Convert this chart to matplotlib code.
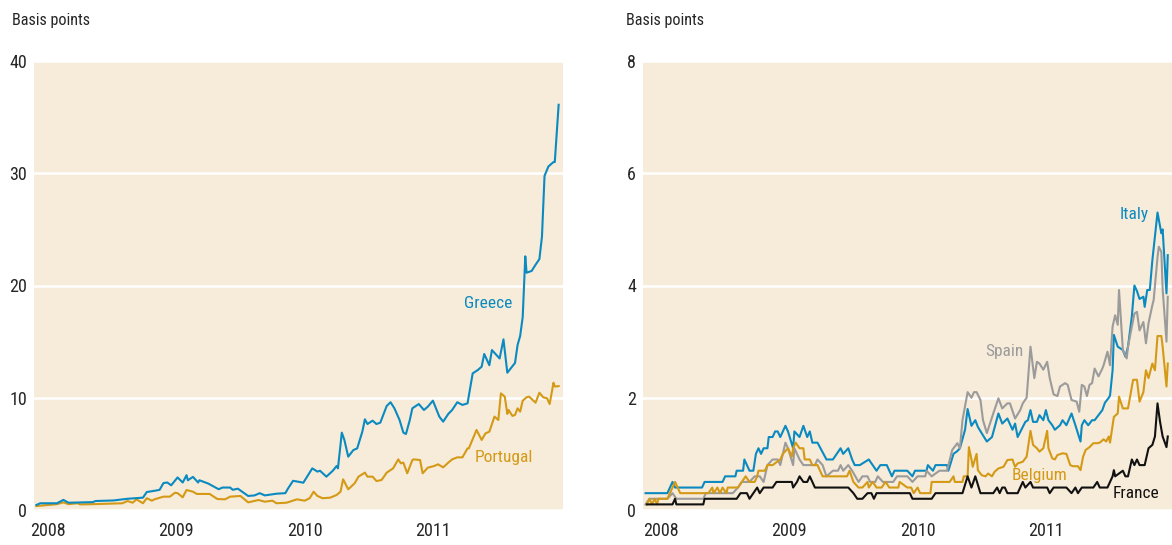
import matplotlib
matplotlib.use("Agg")
import matplotlib.pyplot as plt
from matplotlib import font_manager
from matplotlib.font_manager import FontProperties

# ---------------- data (decimal years, basis points) ----------------
greece_x = [2007.91, 2007.94, 2008.07, 2008.12, 2008.16, 2008.35, 2008.37, 2008.51, 2008.62, 2008.68,
            2008.74, 2008.77, 2008.85, 2008.87, 2008.90, 2008.93, 2008.96, 2009.01, 2009.05, 2009.08,
            2009.09, 2009.13, 2009.17, 2009.18, 2009.25, 2009.33, 2009.36, 2009.42, 2009.44, 2009.48,
            2009.56, 2009.61, 2009.65, 2009.69, 2009.78, 2009.85, 2009.87, 2009.91, 2009.96, 2009.99,
            2010.06, 2010.10, 2010.12, 2010.17, 2010.22, 2010.25, 2010.26, 2010.29, 2010.31, 2010.34,
            2010.38, 2010.41, 2010.45, 2010.47, 2010.49, 2010.53, 2010.56, 2010.59, 2010.64, 2010.67,
            2010.70, 2010.74, 2010.77, 2010.79, 2010.82, 2010.84, 2010.89, 2010.93, 2010.96, 2011.00,
            2011.05, 2011.08, 2011.12, 2011.15, 2011.19, 2011.23, 2011.27, 2011.31, 2011.35, 2011.38,
            2011.40, 2011.44, 2011.46, 2011.52, 2011.55, 2011.58, 2011.64, 2011.66, 2011.68, 2011.70,
            2011.72, 2011.73, 2011.77, 2011.80, 2011.83, 2011.85, 2011.87, 2011.90, 2011.94, 2011.95,
            2011.98]
greece_y = [0.45, 0.6, 0.6, 0.9, 0.65, 0.7, 0.8, 0.85, 1.0, 1.05,
            1.1, 1.6, 1.75, 1.8, 2.4, 2.45, 2.2, 2.9, 2.45, 3.1,
            2.65, 2.95, 2.45, 2.65, 2.35, 1.85, 2.0, 2.0, 1.8, 1.9,
            1.25, 1.3, 1.5, 1.3, 1.45, 1.5, 1.9, 2.6, 2.5, 2.43,
            3.71, 3.42, 3.5, 2.97, 3.5, 3.92, 3.71, 6.89, 6.24, 4.75,
            5.34, 5.49, 6.98, 8.08, 7.66, 7.96, 7.66, 7.78, 9.27, 9.6,
            9.06, 8.02, 6.89, 6.77, 8.02, 9.06, 9.44, 8.91, 9.2, 9.74,
            8.32, 7.87, 8.56, 8.91, 9.6, 9.36, 9.5, 12.17, 12.47, 12.77,
            13.9, 12.9, 14.25, 13.5, 15.2, 12.23, 13.1, 14.7, 15.5, 17.2,
            22.6, 21.14, 21.3, 21.85, 22.35, 24.35, 29.76, 30.6, 31.0, 31.0,
            36.1]

portugal_x = [2007.91, 2008.07, 2008.12, 2008.16, 2008.23, 2008.25, 2008.35, 2008.58, 2008.62, 2008.66,
              2008.69, 2008.74, 2008.77, 2008.81, 2008.83, 2008.90, 2008.95, 2008.99, 2009.01, 2009.05,
              2009.08, 2009.13, 2009.16, 2009.26, 2009.32, 2009.38, 2009.42, 2009.50, 2009.56, 2009.64,
              2009.69, 2009.75, 2009.78, 2009.86, 2009.94, 2010.00, 2010.04, 2010.07, 2010.10, 2010.14,
              2010.20, 2010.25, 2010.28, 2010.30, 2010.31, 2010.34, 2010.39, 2010.42, 2010.47, 2010.49,
              2010.53, 2010.56, 2010.60, 2010.64, 2010.69, 2010.73, 2010.75, 2010.77, 2010.80, 2010.84,
              2010.85, 2010.90, 2010.92, 2010.96, 2011.01, 2011.04, 2011.08, 2011.12, 2011.15, 2011.19,
              2011.23, 2011.27, 2011.28, 2011.34, 2011.38, 2011.41, 2011.44, 2011.48, 2011.51, 2011.53,
              2011.56, 2011.58, 2011.59, 2011.62, 2011.64, 2011.66, 2011.68, 2011.70, 2011.73, 2011.75,
              2011.80, 2011.83, 2011.86, 2011.89, 2011.91, 2011.94, 2011.95, 2011.98]
portugal_y = [0.35, 0.52, 0.68, 0.52, 0.6, 0.5, 0.52, 0.6, 0.8, 0.65,
              0.95, 0.6, 1.05, 0.83, 0.95, 1.19, 1.19, 1.54, 1.5, 1.13,
              1.78, 1.63, 1.43, 1.43, 0.98, 0.95, 1.19, 1.25, 0.68, 0.89,
              0.74, 0.83, 0.6, 0.65, 0.95, 0.83, 1.05, 1.63, 1.25, 1.05,
              1.1, 1.34, 1.63, 2.73, 2.52, 1.84, 2.38, 2.97, 3.33, 2.97,
              2.97, 2.58, 2.67, 3.33, 3.71, 4.51, 4.16, 4.22, 3.27, 4.45,
              4.51, 4.45, 3.27, 3.77, 3.92, 4.07, 3.8, 4.22, 4.51, 4.69,
              4.69, 5.49, 5.49, 7.13, 6.24, 6.83, 6.98, 8.32, 8.02, 10.39,
              10.1, 8.56, 8.91, 8.38, 8.47, 9.06, 8.76, 9.74, 10.04, 10.1,
              9.56, 10.45, 10.04, 9.95, 9.44, 11.34, 11.0, 11.04]

italy_x = [2007.88, 2008.05, 2008.09, 2008.11, 2008.32, 2008.34, 2008.48, 2008.50, 2008.58, 2008.59,
           2008.64, 2008.65, 2008.69, 2008.72, 2008.74, 2008.76, 2008.78, 2008.80, 2008.83, 2008.84,
           2008.87, 2008.89, 2008.91, 2008.93, 2008.97, 2008.99, 2009.03, 2009.04, 2009.08, 2009.11,
           2009.14, 2009.16, 2009.18, 2009.22, 2009.29, 2009.34, 2009.37, 2009.40, 2009.42, 2009.46,
           2009.49, 2009.51, 2009.55, 2009.62, 2009.65, 2009.68, 2009.71, 2009.76, 2009.80, 2009.82,
           2009.92, 2009.96, 2009.98, 2010.07, 2010.08, 2010.12, 2010.14, 2010.23, 2010.24, 2010.28,
           2010.31, 2010.33, 2010.37, 2010.39, 2010.42, 2010.45, 2010.47, 2010.51, 2010.54, 2010.58,
           2010.63, 2010.66, 2010.70, 2010.74, 2010.76, 2010.78, 2010.84, 2010.86, 2010.88, 2010.90,
           2010.93, 2010.95, 2010.98, 2011.00, 2011.02, 2011.05, 2011.07, 2011.11, 2011.13, 2011.16,
           2011.20, 2011.23, 2011.27, 2011.28, 2011.30, 2011.33, 2011.36, 2011.38, 2011.41, 2011.44,
           2011.46, 2011.49, 2011.50, 2011.52, 2011.53, 2011.56, 2011.60, 2011.62, 2011.64, 2011.67,
           2011.69, 2011.71, 2011.73, 2011.76, 2011.77, 2011.79, 2011.81, 2011.83, 2011.87, 2011.90,
           2011.91, 2011.94, 2011.95]
italy_y = [0.3, 0.3, 0.5, 0.4, 0.4, 0.5, 0.5, 0.6, 0.6, 0.7,
           0.7, 0.9, 0.7, 0.7, 1.0, 1.1, 1.0, 1.1, 1.1, 1.3,
           1.3, 1.4, 1.4, 1.3, 1.5, 1.4, 1.1, 1.4, 1.3, 1.5,
           1.3, 1.4, 1.2, 1.2, 0.9, 0.9, 1.0, 1.1, 1.0, 1.1,
           0.9, 0.8, 0.8, 0.9, 0.8, 0.7, 0.8, 0.8, 0.6, 0.7,
           0.7, 0.6, 0.7, 0.7, 0.8, 0.7, 0.8, 0.8, 0.7, 1.0,
           1.05, 1.1, 1.43, 1.8, 1.5, 1.6, 1.48, 1.33, 1.22, 1.3,
           1.72, 1.54, 1.63, 1.43, 1.54, 1.3, 1.57, 1.6, 1.78, 1.57,
           1.57, 1.69, 1.6, 1.78, 1.6, 1.51, 1.43, 1.51, 1.6, 1.51,
           1.72, 1.51, 1.22, 1.51, 1.6, 1.51, 1.6, 1.6, 1.69, 1.78,
           1.91, 2.0, 2.04, 2.49, 3.12, 2.91, 2.85, 2.73, 2.91, 3.45,
           4.0, 3.9, 3.76, 3.8, 3.62, 3.92, 3.92, 4.45, 5.3, 4.93,
           5.0, 3.86, 4.54]

spain_x = [2007.88, 2007.91, 2008.05, 2008.09, 2008.12, 2008.33, 2008.35, 2008.56, 2008.60, 2008.63,
           2008.69, 2008.73, 2008.77, 2008.80, 2008.83, 2008.87, 2008.91, 2008.93, 2008.97, 2008.99,
           2009.03, 2009.04, 2009.08, 2009.11, 2009.20, 2009.22, 2009.26, 2009.29, 2009.34, 2009.38,
           2009.40, 2009.42, 2009.46, 2009.49, 2009.54, 2009.57, 2009.61, 2009.63, 2009.67, 2009.69,
           2009.73, 2009.81, 2009.84, 2009.92, 2009.96, 2010.00, 2010.06, 2010.07, 2010.11, 2010.17,
           2010.23, 2010.27, 2010.31, 2010.33, 2010.35, 2010.39, 2010.42, 2010.44, 2010.46, 2010.49,
           2010.51, 2010.54, 2010.59, 2010.63, 2010.66, 2010.70, 2010.72, 2010.76, 2010.80, 2010.82,
           2010.85, 2010.88, 2010.91, 2010.93, 2010.95, 2010.98, 2011.01, 2011.03, 2011.06, 2011.09,
           2011.11, 2011.15, 2011.17, 2011.20, 2011.24, 2011.26, 2011.28, 2011.30, 2011.32, 2011.34,
           2011.36, 2011.38, 2011.41, 2011.44, 2011.45, 2011.48, 2011.50, 2011.52, 2011.54, 2011.56,
           2011.57, 2011.60, 2011.63, 2011.64, 2011.69, 2011.71, 2011.73, 2011.76, 2011.78, 2011.80,
           2011.83, 2011.84, 2011.87, 2011.88, 2011.90, 2011.91, 2011.94, 2011.95]
spain_y = [0.1, 0.2, 0.2, 0.3, 0.2, 0.2, 0.3, 0.3, 0.4, 0.5,
           0.5, 0.6, 0.6, 0.5, 0.8, 0.9, 0.9, 0.8, 1.2, 1.1,
           0.8, 1.1, 0.9, 0.8, 0.8, 0.9, 0.8, 0.6, 0.7, 0.7,
           0.8, 0.7, 0.8, 0.7, 0.5, 0.6, 0.6, 0.5, 0.5, 0.6,
           0.5, 0.5, 0.6, 0.6, 0.5, 0.6, 0.6, 0.7, 0.6, 0.7,
           0.7, 1.07, 1.19, 1.1, 1.6, 2.1, 2.0, 2.1, 2.1, 1.96,
           1.6, 1.37, 1.72, 1.99, 1.81, 1.9, 1.9, 1.63, 1.78, 1.9,
           2.0, 2.91, 2.35, 2.64, 2.61, 2.5, 2.64, 2.35, 2.06, 2.03,
           2.2, 2.26, 2.23, 1.96, 1.93, 1.75, 2.23, 2.2, 2.03, 2.23,
           2.26, 2.52, 2.38, 2.52, 2.58, 2.82, 2.58, 3.27, 3.47, 3.3,
           3.92, 2.85, 2.7, 2.91, 3.5, 3.53, 3.2, 3.35, 2.97, 3.33,
           3.65, 3.74, 4.5, 4.69, 4.6, 3.94, 3.0, 3.8]

belgium_x = [2007.89, 2007.91, 2007.93, 2007.95, 2007.97, 2007.98, 2008.05, 2008.09, 2008.11, 2008.13,
             2008.15, 2008.37, 2008.40, 2008.41, 2008.44, 2008.46, 2008.48, 2008.51, 2008.52, 2008.60,
             2008.63, 2008.66, 2008.69, 2008.73, 2008.75, 2008.76, 2008.81, 2008.83, 2008.87, 2008.93,
             2008.95, 2008.99, 2009.02, 2009.03, 2009.05, 2009.08, 2009.11, 2009.12, 2009.16, 2009.18,
             2009.22, 2009.24, 2009.26, 2009.45, 2009.47, 2009.50, 2009.54, 2009.57, 2009.61, 2009.62,
             2009.65, 2009.68, 2009.72, 2009.75, 2009.78, 2009.85, 2009.86, 2009.92, 2009.95, 2009.97,
             2010.00, 2010.02, 2010.10, 2010.11, 2010.25, 2010.28, 2010.29, 2010.35, 2010.36, 2010.39,
             2010.40, 2010.42, 2010.43, 2010.46, 2010.47, 2010.50, 2010.53, 2010.55, 2010.58, 2010.60,
             2010.63, 2010.67, 2010.70, 2010.74, 2010.75, 2010.76, 2010.78, 2010.82, 2010.85, 2010.88,
             2010.90, 2010.93, 2010.95, 2010.98, 2011.01, 2011.02, 2011.05, 2011.07, 2011.09, 2011.13,
             2011.16, 2011.19, 2011.21, 2011.25, 2011.27, 2011.29, 2011.31, 2011.34, 2011.37, 2011.40,
             2011.42, 2011.45, 2011.47, 2011.49, 2011.50, 2011.53, 2011.56, 2011.57, 2011.60, 2011.64,
             2011.68, 2011.71, 2011.73, 2011.76, 2011.78, 2011.80, 2011.83, 2011.85, 2011.87, 2011.90,
             2011.91, 2011.94, 2011.95]
belgium_y = [0.1, 0.2, 0.1, 0.2, 0.1, 0.2, 0.2, 0.4, 0.5, 0.4,
             0.3, 0.3, 0.4, 0.3, 0.4, 0.3, 0.4, 0.3, 0.4, 0.4,
             0.5, 0.6, 0.5, 0.5, 0.6, 0.7, 0.7, 0.8, 0.8, 0.9,
             1.0, 1.1, 0.95, 1.1, 1.2, 1.1, 1.1, 0.9, 0.9, 0.8,
             0.8, 0.7, 0.6, 0.6, 0.7, 0.5, 0.4, 0.4, 0.5, 0.4,
             0.5, 0.4, 0.4, 0.5, 0.4, 0.4, 0.5, 0.4, 0.4, 0.3,
             0.4, 0.3, 0.3, 0.5, 0.5, 0.6, 0.5, 0.5, 0.6, 0.6,
             1.12, 0.9, 0.77, 1.0, 0.71, 0.62, 0.6, 0.65, 0.6, 0.68,
             0.74, 0.77, 0.89, 0.9, 0.83, 0.77, 0.83, 0.86, 0.95, 1.41,
             1.16, 1.1, 1.04, 1.1, 1.41, 1.1, 0.92, 0.9, 0.98, 1.01,
             1.0, 0.8, 0.78, 0.78, 0.71, 0.95, 1.07, 1.12, 1.19, 1.19,
             1.2, 1.26, 1.22, 1.31, 1.2, 1.66, 1.72, 2.02, 1.81, 1.81,
             2.32, 2.32, 1.93, 2.1, 2.49, 2.35, 2.61, 2.49, 3.1, 3.1,
             2.91, 2.2, 2.61]

france_x = [2007.89, 2008.09, 2008.11, 2008.12, 2008.33, 2008.34, 2008.59, 2008.62, 2008.67, 2008.69,
            2008.75, 2008.77, 2008.80, 2008.87, 2008.90, 2009.02, 2009.03, 2009.06, 2009.08, 2009.11,
            2009.14, 2009.16, 2009.20, 2009.46, 2009.50, 2009.53, 2009.57, 2009.61, 2009.64, 2009.66,
            2009.68, 2009.94, 2009.96, 2010.11, 2010.14, 2010.35, 2010.39, 2010.42, 2010.45, 2010.49,
            2010.59, 2010.62, 2010.64, 2010.66, 2010.68, 2010.70, 2010.78, 2010.80, 2010.82, 2010.84,
            2010.88, 2010.90, 2011.01, 2011.03, 2011.06, 2011.16, 2011.20, 2011.23, 2011.25, 2011.28,
            2011.37, 2011.40, 2011.42, 2011.48, 2011.52, 2011.53, 2011.54, 2011.60, 2011.62, 2011.64,
            2011.67, 2011.69, 2011.71, 2011.73, 2011.77, 2011.80, 2011.83, 2011.85, 2011.87, 2011.89,
            2011.91, 2011.94, 2011.95]
france_y = [0.1, 0.1, 0.2, 0.1, 0.1, 0.2, 0.2, 0.3, 0.3, 0.2,
            0.4, 0.3, 0.4, 0.4, 0.5, 0.5, 0.4, 0.5, 0.6, 0.5,
            0.5, 0.6, 0.4, 0.4, 0.3, 0.2, 0.2, 0.3, 0.3, 0.2,
            0.3, 0.3, 0.2, 0.2, 0.3, 0.3, 0.6, 0.4, 0.6, 0.3,
            0.3, 0.4, 0.3, 0.4, 0.4, 0.3, 0.3, 0.4, 0.5, 0.4,
            0.5, 0.4, 0.4, 0.3, 0.4, 0.4, 0.3, 0.4, 0.3, 0.4,
            0.4, 0.5, 0.4, 0.4, 0.6, 0.71, 0.6, 0.7, 0.6, 0.6,
            0.9, 0.8, 0.9, 0.8, 0.8, 1.1, 1.16, 1.31, 1.9, 1.57,
            1.31, 1.12, 1.31]

year_ticks = [2008, 2009, 2010, 2011]
left_yticks = [0, 10, 20, 30, 40]
right_yticks = [0, 2, 4, 6, 8]
unit_label = "Basis points"

# ---------------- font: prefer a narrow / condensed sans ----------------
def pick_font():
    fl = font_manager.fontManager.ttflist

    def ok(f):
        return f.style == "normal" and f.weight in (400, "normal", "regular")

    prefs = [
        lambda f: f.name == "Liberation Sans Narrow",
        lambda f: f.name == "Roboto Condensed",
        lambda f: f.name.startswith("Noto Sans") and "CJK" not in f.name and
                  ("Condensed" in f.name or f.stretch == "condensed"),
        lambda f: f.name.startswith("Open Sans") and ("Condensed" in f.name or f.stretch == "condensed"),
        lambda f: f.name.startswith("Roboto") and ("Condensed" in f.name or f.stretch == "condensed"),
        lambda f: f.name.startswith("DejaVu Sans") and ("Condensed" in f.name or f.stretch == "condensed"),
    ]
    for p in prefs:
        for f in fl:
            if ok(f) and p(f):
                return f.fname, True
    return None, False


fname, narrow = pick_font()
if fname:
    base = FontProperties(fname=fname)
else:
    base = FontProperties(family="Liberation Sans")


def fp(size):
    p = base.copy()
    p.set_size(size)
    return p


TICK_SIZE = 13 if narrow else 11.5
LAB_SIZE = 12.5 if narrow else 11
UNIT_SIZE = 11.6 if narrow else 10.5

BG = "#F7EBDA"
BLUE = "#0A8AC0"
GOLD = "#D49A16"
GREY = "#9B9B9B"
BLACK = "#111111"
TEXT = "#262626"
LW = 1.5

fig = plt.figure(figsize=(11.72, 5.45), dpi=100)
ax1 = fig.add_axes([34 / 1172, 1 - 510 / 545, 529 / 1172, 449 / 545])
ax2 = fig.add_axes([643 / 1172, 1 - 510 / 545, 529 / 1172, 449 / 545])


def style(ax, yticks, xlim):
    ax.set_facecolor(BG)
    for s in ax.spines.values():
        s.set_visible(False)
    ax.set_ylim(yticks[0], yticks[-1])
    ax.set_xlim(*xlim)
    ax.set_yticks(yticks)
    ax.set_yticklabels([str(v) for v in yticks], fontproperties=fp(TICK_SIZE))
    ax.set_xticks(year_ticks)
    ax.set_xticklabels([str(y) for y in year_ticks], fontproperties=fp(TICK_SIZE))
    ax.tick_params(axis="both", length=0, colors=TEXT)
    ax.tick_params(axis="y", pad=5)
    ax.tick_params(axis="x", pad=9)
    ax.grid(axis="y", color="white", linewidth=1.8)
    ax.grid(axis="x", visible=False)
    ax.set_axisbelow(True)


style(ax1, left_yticks, (2007.891, 2012.014))
style(ax2, right_yticks, (2007.860, 2011.983))

ax1.plot(portugal_x, portugal_y, color=GOLD, lw=LW)
ax1.plot(greece_x, greece_y, color=BLUE, lw=LW)
ax1.text(2011.43, 18.4, "Greece", color=BLUE, fontproperties=fp(LAB_SIZE), ha="center", va="center")
ax1.text(2011.55, 4.7, "Portugal", color=GOLD, fontproperties=fp(LAB_SIZE), ha="center", va="center")

ax2.plot(italy_x, italy_y, color=BLUE, lw=LW)
ax2.plot(spain_x, spain_y, color=GREY, lw=LW)
ax2.plot(belgium_x, belgium_y, color=GOLD, lw=LW)
ax2.plot(france_x, france_y, color=BLACK, lw=LW)
ax2.text(2011.69, 5.26, "Italy", color=BLUE, fontproperties=fp(LAB_SIZE), ha="center", va="center")
ax2.text(2010.68, 2.82, "Spain", color=GREY, fontproperties=fp(LAB_SIZE), ha="center", va="center")
ax2.text(2010.95, 0.61, "Belgium", color=GOLD, fontproperties=fp(LAB_SIZE), ha="center", va="center")
ax2.text(2011.70, 0.29, "France", color=BLACK, fontproperties=fp(LAB_SIZE), ha="center", va="center")

fig.text(12 / 1172, 1 - 25 / 545, unit_label, fontproperties=fp(UNIT_SIZE), color=TEXT,
         ha="left", va="baseline")
fig.text(626 / 1172, 1 - 25 / 545, unit_label, fontproperties=fp(UNIT_SIZE), color=TEXT,
         ha="left", va="baseline")

fig.savefig("out.png", dpi=100, facecolor="white")
